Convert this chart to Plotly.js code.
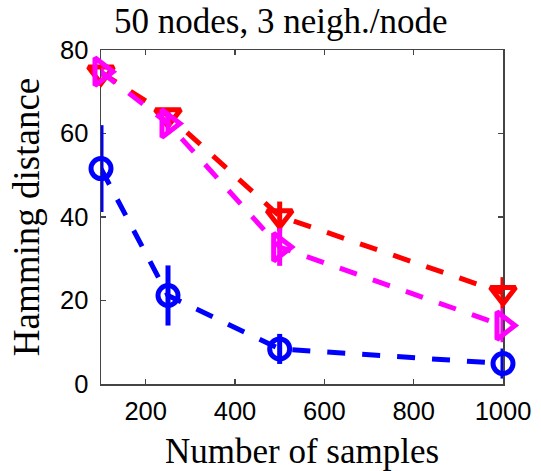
<!DOCTYPE html>
<html>
<head>
<meta charset="utf-8">
<script src="https://cdn.plot.ly/plotly-3.0.1.min.js"></script>
<style>html,body{margin:0;padding:0;background:#fff;}#chart{width:541px;height:471px;}</style>
</head>
<body>
<div id="chart"></div>
<script>
const samples = [100, 250, 500, 1000];
const blueVals = [51.6, 21.2, 8.4, 4.9];
const blueErr = [10.4, 7.2, 3.6, 3.6];
const redVals = [74.6, 64.4, 40.2, 21.8];
const redErr = [1.0, 1.5, 3.5, 3.8];
const magVals = [74.8, 62.4, 32.8, 14.0];
const magErr = [1.0, 2.5, 4.5, 4.0];
const xTicks = [200, 400, 600, 800, 1000];
const yTicks = [0, 20, 40, 60, 80];

function series(y, err, color, symbol, size) {
  return {
    x: samples, y: y, type: 'scatter', mode: 'lines+markers',
    cliponaxis: false,
    line: {color: color, width: 5, dash: '18px,17px'},
    marker: {symbol: symbol, size: size, color: color, line: {color: color, width: 5}},
    error_y: {type: 'data', array: err, visible: true, thickness: 5, width: 0, color: color}
  };
}

const data = [
  series(blueVals, blueErr, '#0000ff', 'circle-open', 20),
  series(redVals, redErr, '#ff0000', 'triangle-down-open', 22),
  series(magVals, magErr, '#ff00ff', 'triangle-right-open', 24)
];

const serif = 'Liberation Serif, Times New Roman, serif';
const sans = 'Liberation Sans, Arial, Helvetica, sans-serif';

const layout = {
  width: 541, height: 471,
  margin: {l: 101, r: 38, t: 50, b: 87},
  paper_bgcolor: '#fff', plot_bgcolor: '#fff',
  showlegend: false,
  title: {text: '50 nodes, 3 neigh./node', font: {family: serif, size: 35, color: '#000'},
          x: 0.519, xref: 'container', xanchor: 'center', y: 0.955, yref: 'container', yanchor: 'middle'},
  xaxis: {
    range: [100, 1000], tickvals: xTicks, ticktext: xTicks.map(String),
    ticks: 'inside', ticklen: 5, tickwidth: 1.2, tickcolor: '#444',
    showline: true, linecolor: '#444', linewidth: 1.5, mirror: 'ticks',
    showgrid: false, zeroline: false, layer: 'below traces',
    tickfont: {family: sans, size: 25.5, color: '#000'}, ticklabelstandoff: 4,
    title: {text: 'Number of samples', font: {family: serif, size: 35, color: '#000'}, standoff: 21}
  },
  yaxis: {
    range: [0, 80], tickvals: yTicks, ticktext: yTicks.map(String),
    ticks: 'inside', ticklen: 5, tickwidth: 1.2, tickcolor: '#444',
    showline: true, linecolor: '#444', linewidth: 1.5, mirror: 'ticks',
    showgrid: false, zeroline: false, layer: 'below traces',
    tickfont: {family: sans, size: 25.5, color: '#000'}, ticklabelstandoff: 6,
    title: {text: 'Hamming distance', font: {family: serif, size: 37, color: '#000'}, standoff: 9}
  }
};

Plotly.newPlot('chart', data, layout, {displayModeBar: false, staticPlot: true});
</script>
</body>
</html>
